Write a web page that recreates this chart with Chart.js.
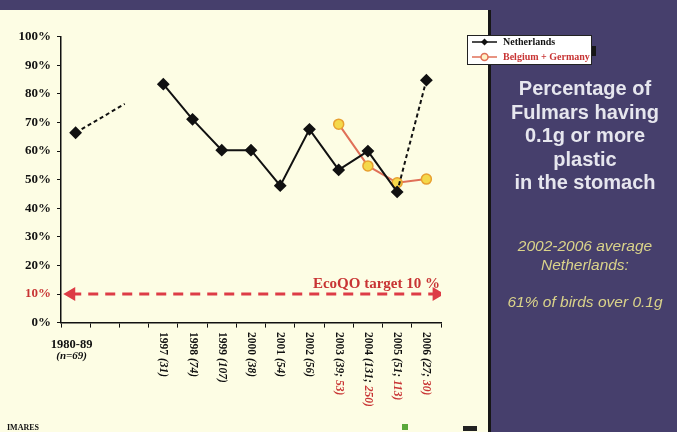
<!DOCTYPE html>
<html>
<head>
<meta charset="utf-8">
<script src="https://cdn.jsdelivr.net/npm/chart.js@4/dist/chart.umd.min.js"></script>
<style>
  html, body { margin: 0; padding: 0; background: #463f6c; width: 677px; height: 432px; overflow: hidden; }
  #wrap { position: relative; width: 677px; height: 432px; }
  #cream { position: absolute; left: 0; top: 10px; width: 488px; height: 422px; background: #fdfde4; border-right: 3px solid #161616; }
  #chart { position: absolute; left: 0; top: 0; }
  .side { position: absolute; left: 493px; width: 184px; text-align: center; font-family: "Liberation Sans", Arial, sans-serif; }
  #title { top: 77px; color: #e6e6ee; font-weight: bold; font-size: 20px; line-height: 23.5px; }
  #note { top: 237px; color: #dad38a; font-style: italic; font-size: 15.5px; line-height: 18.5px; }
  #imares { position: absolute; left: 7px; top: 423px; font: bold 8px "Liberation Serif", serif; color: #111; }
  #logo { position: absolute; left: 402px; top: 424px; width: 6px; height: 6px; background: #5aa83a; }
  #logo2 { position: absolute; left: 463px; top: 426px; width: 14px; height: 5px; background: #222; }
</style>
</head>
<body>
<div id="wrap">
  <div id="cream"></div>
  <canvas id="chart" width="677" height="432"></canvas>
  <div class="side" id="title">Percentage of<br>Fulmars having<br>0.1g or more<br>plastic<br>in the stomach</div>
  <div class="side" id="note">2002-2006 average<br>Netherlands:<br><br>61% of birds over 0.1g</div>
  <div id="imares">IMARES</div>
  <div id="logo"></div>
  <div id="logo2"></div>
</div>
<script>
// 범주 (1980-89 다음 두 칸은 비어 있음)
const categories = ['1980-89', '', '', '1997', '1998', '1999', '2000', '2001', '2002', '2003', '2004', '2005', '2006'];
const samplesNL  = ['n=69', '', '', '31', '74', '107', '38', '54', '56', '39', '131', '51', '27'];
const samplesBG  = ['', '', '', '', '', '', '', '', '', '53', '250', '113', '30'];

const netherlands    = [66.4, null, null, 83.4, 71.1, 60.3, 60.3, 47.9, 67.6, 53.4, 60.0, 45.7, 84.8];
const belgiumGermany = [null, null, null, null, null, null, null, null, null, 69.4, 54.8, 48.9, 50.2];

// 1980-89 에서 뻗어 나가다 끊기는 점선 조각
const stubX = [0, 1.68];
const stubY = [66.4, 76.5];

const targetValue = 10;
const targetX = [-0.15, 12.35];
const targetLabel = 'EcoQO target 10 %';

const C = {
  black: '#111111',
  orange: '#e07058',
  yellow: '#f4d84a',
  red: '#dd3c46',
  redText: '#c83434',
};

const SERIF = '"Liberation Serif", "Times New Roman", serif';

const overlay = {
  id: 'overlay',
  afterDraw(chart) {
    const ctx = chart.ctx;
    const x = chart.scales.x;
    const xl = chart.scales.xl;
    const y = chart.scales.y;

    // x 라벨 (세로 회전, 연도는 굵게, 표본 수는 기울임)
    ctx.save();
    ctx.fillStyle = C.black;
    ctx.textAlign = 'center';
    ctx.textBaseline = 'alphabetic';
    const p0 = x.getPixelForValue(0) - 4;
    ctx.font = 'bold 12.5px ' + SERIF;
    ctx.fillText(categories[0], p0, 348);
    ctx.font = 'italic bold 11px ' + SERIF;
    ctx.fillText('(' + samplesNL[0] + ')', p0, 359);
    ctx.restore();

    for (let i = 3; i < categories.length; i++) {
      const px = x.getPixelForValue(i);
      ctx.save();
      ctx.translate(px, 332);
      ctx.rotate(Math.PI / 2);
      ctx.textAlign = 'left';
      ctx.textBaseline = 'middle';
      let cx = 0;
      ctx.fillStyle = C.black;
      ctx.font = 'bold 11.5px ' + SERIF;
      const yr = categories[i] + ' ';
      ctx.fillText(yr, cx, 0);
      cx += ctx.measureText(yr).width;
      ctx.font = 'italic bold 11.5px ' + SERIF;
      if (samplesBG[i]) {
        const a = '(' + samplesNL[i] + '; ';
        ctx.fillText(a, cx, 0);
        cx += ctx.measureText(a).width;
        ctx.fillStyle = C.redText;
        ctx.fillText(samplesBG[i] + ')', cx, 0);
      } else {
        ctx.fillText('(' + samplesNL[i] + ')', cx, 0);
      }
      ctx.restore();
    }

    // EcoQO 목표 라벨
    ctx.save();
    ctx.font = 'bold 15px ' + SERIF;
    ctx.fillStyle = C.redText;
    ctx.textAlign = 'right';
    ctx.textBaseline = 'alphabetic';
    ctx.fillText(targetLabel, xl.getPixelForValue(12.5) - 1, y.getPixelForValue(targetValue) - 6);
    ctx.restore();

    // 범례 상자
    ctx.save();
    ctx.fillStyle = '#161616';
    ctx.fillRect(591, 46, 5, 10);
    ctx.fillStyle = '#ffffff';
    ctx.fillRect(467, 35, 125, 30);
    ctx.strokeStyle = '#222';
    ctx.lineWidth = 1;
    ctx.strokeRect(467.5, 35.5, 124, 29);
    ctx.lineWidth = 1.5;
    ctx.strokeStyle = C.black;
    ctx.beginPath(); ctx.moveTo(472, 42); ctx.lineTo(497, 42); ctx.stroke();
    ctx.fillStyle = C.black;
    ctx.beginPath();
    ctx.moveTo(484.5, 38.5); ctx.lineTo(488, 42); ctx.lineTo(484.5, 45.5); ctx.lineTo(481, 42); ctx.closePath();
    ctx.fill();
    ctx.strokeStyle = C.orange;
    ctx.beginPath(); ctx.moveTo(472, 57); ctx.lineTo(497, 57); ctx.stroke();
    ctx.fillStyle = '#fff2c8';
    ctx.beginPath(); ctx.arc(484.5, 57, 3.5, 0, Math.PI * 2); ctx.fill(); ctx.stroke();
    ctx.font = 'bold 10px ' + SERIF;
    ctx.textBaseline = 'middle';
    ctx.textAlign = 'left';
    ctx.fillStyle = C.black;
    ctx.fillText('Netherlands', 503, 42);
    ctx.fillStyle = C.redText;
    ctx.fillText('Belgium + Germany', 503, 57);
    ctx.restore();
  }
};

new Chart(document.getElementById('chart'), {
  type: 'line',
  data: {
    labels: categories,
    datasets: [
      {
        label: 'Netherlands',
        data: netherlands,
        xAxisID: 'x',
        order: 1,
        borderColor: C.black,
        backgroundColor: C.black,
        borderWidth: 2,
        pointStyle: 'rectRot',
        pointRadius: 5,
        pointBackgroundColor: C.black,
        pointBorderColor: C.black,
        spanGaps: false,
        tension: 0,
        segment: { borderDash: c => c.p0DataIndex === 11 ? [4, 3] : undefined },
      },
      {
        label: 'Belgium + Germany',
        data: belgiumGermany,
        xAxisID: 'x',
        order: 2,
        borderColor: C.orange,
        backgroundColor: C.yellow,
        borderWidth: 2,
        pointStyle: 'circle',
        pointRadius: 5,
        pointBorderWidth: 1.5,
        pointBackgroundColor: C.yellow,
        pointBorderColor: '#e8a030',
        tension: 0,
      },
      {
        label: 'stub',
        data: stubX.map((v, i) => ({ x: v, y: stubY[i] })),
        xAxisID: 'xl',
        order: 3,
        borderColor: C.black,
        borderWidth: 2,
        borderDash: [4, 3],
        pointRadius: 0,
      },
      {
        label: 'target',
        data: targetX.map(v => ({ x: v, y: targetValue })),
        xAxisID: 'xl',
        order: 4,
        borderColor: C.red,
        backgroundColor: C.red,
        borderWidth: 3,
        borderDash: [10, 7],
        pointStyle: 'triangle',
        pointRadius: 5,
        pointRotation: [-90, 90],
        pointBackgroundColor: C.red,
        pointBorderColor: C.red,
      },
    ],
  },
  options: {
    responsive: false,
    animation: false,
    layout: { padding: { left: 0, right: 236, top: 36.7, bottom: 0 } },
    plugins: { legend: { display: false }, tooltip: { enabled: false } },
    scales: {
      x: {
        type: 'category',
        offset: true,
        afterFit: s => { s.height = 109.4; },
        border: { color: C.black, width: 1.5 },
        grid: { offset: true, drawOnChartArea: false, drawTicks: true, tickLength: 5, color: C.black },
        ticks: { display: false },
      },
      xl: {
        type: 'linear',
        display: false,
        min: -0.5,
        max: 12.5,
      },
      y: {
        min: 0,
        max: 100,
        afterFit: s => { s.width = 61; },
        border: { color: C.black, width: 1.5 },
        grid: { drawOnChartArea: false, drawTicks: true, tickLength: 4, color: C.black },
        ticks: {
          stepSize: 10,
          padding: 6,
          callback: v => v + '%',
          color: c => c.tick.value === targetValue ? C.redText : C.black,
          font: { family: SERIF, weight: 'bold', size: 13 },
        },
      },
    },
  },
  plugins: [overlay],
});
</script>
</body>
</html>
